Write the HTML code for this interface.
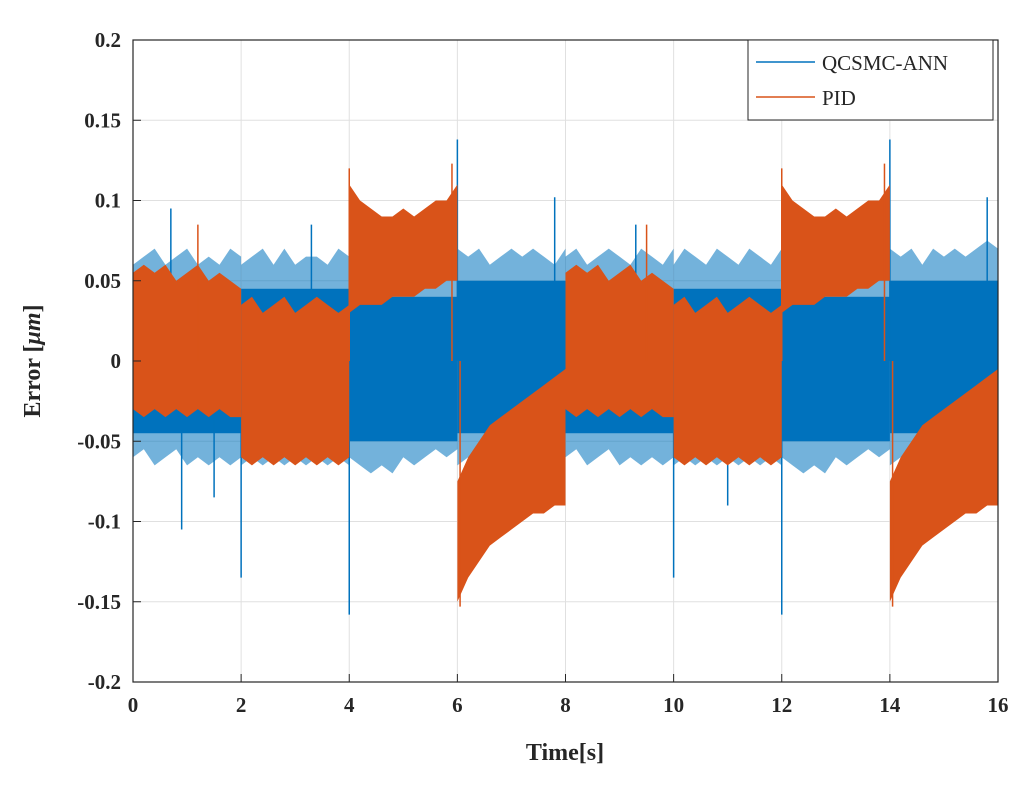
<!DOCTYPE html>
<html><head><meta charset="utf-8"><style>
body{margin:0;background:#fff;}
svg text{font-family:"Liberation Serif",serif;fill:#262626;}
</style></head><body>
<svg id="chart" width="1036" height="783" viewBox="0 0 1036 783" xmlns="http://www.w3.org/2000/svg">
<g id="grid"></g>
<g id="series"></g>
<g id="axes"></g>
<text x="565" y="760" font-size="24" font-weight="bold" text-anchor="middle">Time[s]</text>
<text transform="translate(40,361) rotate(-90)" font-size="24" font-weight="bold" text-anchor="middle">Error [<tspan font-style="italic">μm</tspan>]</text>
<g>
<rect x="748" y="40" width="245" height="80" fill="#fff" stroke="#262626" stroke-width="1"/>
<g><line x1="756" y1="62" x2="815" y2="62" stroke="#0072BD" stroke-width="1.5"/><text x="822" y="70" font-size="21">QCSMC-ANN</text></g>
<g><line x1="756" y1="97" x2="815" y2="97" stroke="#D95319" stroke-width="1.5"/><text x="822" y="105" font-size="21">PID</text></g>
</g>
</svg>
<script>
const segStarts=[0,2,4,6,8,10,12,14];
const blueUpper=[
[0.06,0.065,0.07,0.06,0.065,0.07,0.06,0.065,0.06,0.07,0.065],
[0.06,0.065,0.07,0.06,0.07,0.06,0.065,0.065,0.06,0.07,0.065],
[0.065,0.07,0.06,0.065,0.07,0.065,0.06,0.07,0.065,0.06,0.07],
[0.07,0.065,0.07,0.06,0.065,0.07,0.065,0.07,0.065,0.06,0.07],
[0.065,0.07,0.06,0.065,0.07,0.065,0.06,0.07,0.065,0.06,0.07],
[0.06,0.07,0.065,0.06,0.07,0.065,0.06,0.07,0.065,0.06,0.07],
[0.065,0.06,0.07,0.065,0.07,0.06,0.065,0.07,0.06,0.065,0.07],
[0.07,0.065,0.07,0.06,0.07,0.065,0.07,0.065,0.07,0.075,0.07]];
const blueLower=[
[-0.06,-0.055,-0.065,-0.06,-0.055,-0.065,-0.06,-0.065,-0.06,-0.065,-0.06],
[-0.065,-0.06,-0.065,-0.06,-0.065,-0.06,-0.065,-0.06,-0.065,-0.06,-0.065],
[-0.06,-0.065,-0.07,-0.065,-0.07,-0.06,-0.065,-0.06,-0.055,-0.06,-0.055],
[-0.065,-0.06,-0.065,-0.06,-0.065,-0.06,-0.065,-0.06,-0.065,-0.06,-0.065],
[-0.06,-0.055,-0.065,-0.06,-0.055,-0.065,-0.06,-0.065,-0.06,-0.065,-0.06],
[-0.065,-0.06,-0.065,-0.06,-0.065,-0.06,-0.065,-0.06,-0.065,-0.06,-0.065],
[-0.06,-0.065,-0.07,-0.065,-0.07,-0.06,-0.065,-0.06,-0.055,-0.06,-0.055],
[-0.065,-0.06,-0.065,-0.06,-0.065,-0.06,-0.065,-0.06,-0.065,-0.06,-0.065]];
const blueCoreUpper=[0.045,0.045,0.04,0.05,0.045,0.045,0.04,0.05];
const blueCoreLower=[-0.045,-0.045,-0.05,-0.045,-0.045,-0.045,-0.05,-0.045];
const orangeUpper=[
[0.055,0.06,0.055,0.06,0.05,0.055,0.06,0.05,0.055,0.05,0.045],
[0.035,0.04,0.03,0.035,0.04,0.03,0.035,0.04,0.035,0.03,0.035],
[0.11,0.1,0.095,0.09,0.09,0.095,0.09,0.095,0.1,0.1,0.11],
[-0.075,-0.06,-0.05,-0.04,-0.035,-0.03,-0.025,-0.02,-0.015,-0.01,-0.005],
[0.055,0.06,0.055,0.06,0.05,0.055,0.06,0.05,0.055,0.05,0.045],
[0.035,0.04,0.03,0.035,0.04,0.03,0.035,0.04,0.035,0.03,0.035],
[0.11,0.1,0.095,0.09,0.09,0.095,0.09,0.095,0.1,0.1,0.11],
[-0.075,-0.06,-0.05,-0.04,-0.035,-0.03,-0.025,-0.02,-0.015,-0.01,-0.005]];
const orangeLower=[
[-0.03,-0.035,-0.03,-0.035,-0.03,-0.035,-0.03,-0.035,-0.03,-0.035,-0.035],
[-0.06,-0.065,-0.06,-0.065,-0.06,-0.065,-0.06,-0.065,-0.06,-0.065,-0.06],
[0.03,0.035,0.035,0.035,0.04,0.04,0.04,0.045,0.045,0.05,0.05],
[-0.15,-0.135,-0.125,-0.115,-0.11,-0.105,-0.1,-0.095,-0.095,-0.09,-0.09],
[-0.03,-0.035,-0.03,-0.035,-0.03,-0.035,-0.03,-0.035,-0.03,-0.035,-0.035],
[-0.06,-0.065,-0.06,-0.065,-0.06,-0.065,-0.06,-0.065,-0.06,-0.065,-0.06],
[0.03,0.035,0.035,0.035,0.04,0.04,0.04,0.045,0.045,0.05,0.05],
[-0.15,-0.135,-0.125,-0.115,-0.11,-0.105,-0.1,-0.095,-0.095,-0.09,-0.09]];
const blueSpikeT=[0.7,0.9,2.0,4.0,6.0,7.8,10.0,12.0,14.0,15.8,1.5,3.3,9.3,11.0];
const blueSpikeV=[0.095,-0.105,-0.135,-0.158,0.138,0.102,-0.135,-0.158,0.138,0.102,-0.085,0.085,0.085,-0.09];
const orangeSpikeT=[4.0,5.9,6.05,12.0,13.9,14.05,1.2,9.5];
const orangeSpikeV=[0.12,0.123,-0.153,0.12,0.123,-0.153,0.085,0.085];
const xTicks=[0,2,4,6,8,10,12,14,16];
const yTicks=[0.2,0.15,0.1,0.05,0,-0.05,-0.1,-0.15,-0.2];
const yTickLabels=["0.2","0.15","0.1","0.05","0","-0.05","-0.1","-0.15","-0.2"];

const X0=133,X1=998,YT=40,YB=682;
const xs=t=>X0+(t/16)*(X1-X0);
const ys=v=>YT+(0.2-v)/0.4*(YB-YT);
const NS="http://www.w3.org/2000/svg";
function mk(tag,parent){const e=document.createElementNS(NS,tag);parent.appendChild(e);return e;}
const grid=document.getElementById('grid'),series=document.getElementById('series'),axes=document.getElementById('axes');
xTicks.forEach(t=>{const l=mk('line',grid);l.setAttribute('x1',xs(t));l.setAttribute('x2',xs(t));l.setAttribute('y1',YT);l.setAttribute('y2',YB);l.setAttribute('stroke','#e0e0e0');


const tx=mk('text',axes);tx.setAttribute('x',xs(t));tx.setAttribute('y',YB+30);tx.setAttribute('font-size','21');tx.setAttribute('font-weight','bold');tx.setAttribute('text-anchor','middle');tx.textContent=t;


const tk=mk('line',axes);tk.setAttribute('x1',xs(t));tk.setAttribute('x2',xs(t));tk.setAttribute('y1',YB);tk.setAttribute('y2',YB-8);tk.setAttribute('stroke','#262626');

});
yTicks.forEach((v,i)=>{const l=mk('line',grid);l.setAttribute('x1',X0);l.setAttribute('x2',X1);l.setAttribute('y1',ys(v));l.setAttribute('y2',ys(v));l.setAttribute('stroke','#e0e0e0');


const tx=mk('text',axes);tx.setAttribute('x',X0-12);tx.setAttribute('y',ys(v)+7);tx.setAttribute('font-size','21');tx.setAttribute('font-weight','bold');tx.setAttribute('text-anchor','end');tx.textContent=yTickLabels[i];


const tk=mk('line',axes);tk.setAttribute('x1',X0);tk.setAttribute('x2',X0+8);tk.setAttribute('y1',ys(v));tk.setAttribute('y2',ys(v));tk.setAttribute('stroke','#262626');

});
function band(up,lo,color,name,op){
 segStarts.forEach((s,k)=>{let pts=[];
  up[k].forEach((v,i)=>pts.push(xs(s+i*0.2)+','+ys(v)));
  for(let i=lo[k].length-1;i>=0;i--)pts.push(xs(s+i*0.2)+','+ys(lo[k][i]));
  const p=mk('polygon',series);p.setAttribute('points',pts.join(' '));p.setAttribute('fill',color);p.setAttribute('fill-opacity',op);p.setAttribute('stroke','none');
  
  });
}
function core(up,lo,color,name){
 segStarts.forEach((s,k)=>{const r=mk('rect',series);r.setAttribute('x',xs(s));r.setAttribute('width',xs(s+2)-xs(s));r.setAttribute('y',ys(up[k]));r.setAttribute('height',ys(lo[k])-ys(up[k]));r.setAttribute('fill',color);
 
 });
}
function spikes(T,V,color,name){T.forEach((t,i)=>{const l=mk('line',series);l.setAttribute('x1',xs(t));l.setAttribute('x2',xs(t));l.setAttribute('y1',ys(0));l.setAttribute('y2',ys(V[i]));l.setAttribute('stroke',color);l.setAttribute('stroke-width','1.5');
 
 });}
band(blueUpper,blueLower,'#0072BD','qcsmc-ann-band','0.55');
core(blueCoreUpper,blueCoreLower,'#0072BD','qcsmc-ann-core');
spikes(blueSpikeT,blueSpikeV,'#0072BD','qcsmc-ann-spike');
band(orangeUpper,orangeLower,'#D95319','pid-band','1');
spikes(orangeSpikeT,orangeSpikeV,'#D95319','pid-spike');
const fr=mk('rect',axes);fr.setAttribute('x',X0);fr.setAttribute('y',YT);fr.setAttribute('width',X1-X0);fr.setAttribute('height',YB-YT);fr.setAttribute('fill','none');fr.setAttribute('stroke','#262626');fr.setAttribute('stroke-width','1.2');


</script>
</body></html>
